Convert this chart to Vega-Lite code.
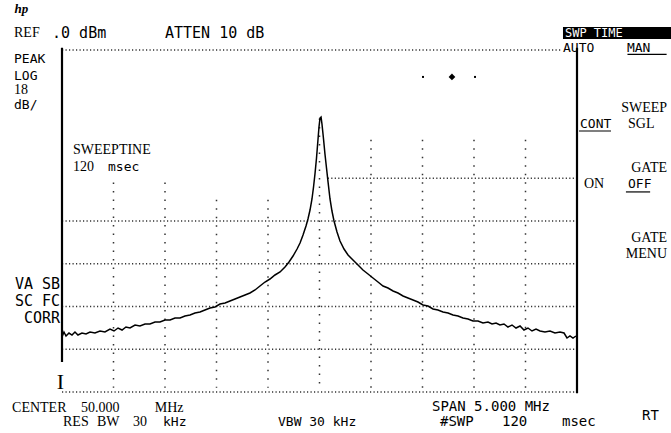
{
  "$schema": "https://vega.github.io/schema/vega-lite/v6.json",
  "width": 515,
  "height": 342,
  "autosize": {"type": "none"},
  "padding": {"left": 62, "top": 50, "right": 94, "bottom": 41},
  "background": "white",
  "config": {"view": {"stroke": null}},
  "datasets": {
    "trace": [
      {"f":47.500,"dB":-67.13},{"f":47.519,"dB":-65.96},{"f":47.539,"dB":-66.90},{"f":47.568,"dB":-66.20},{"f":47.597,"dB":-66.67},{"f":47.626,"dB":-65.96},{"f":47.655,"dB":-66.67},{"f":47.694,"dB":-66.20},{"f":47.733,"dB":-66.43},{"f":47.772,"dB":-65.96},{"f":47.820,"dB":-66.20},{"f":47.869,"dB":-65.73},{"f":47.917,"dB":-65.96},{"f":47.966,"dB":-65.26},{"f":48.005,"dB":-65.73},{"f":48.044,"dB":-65.03},{"f":48.083,"dB":-65.50},{"f":48.121,"dB":-64.80},{"f":48.160,"dB":-65.03},{"f":48.209,"dB":-64.33},{"f":48.257,"dB":-64.56},{"f":48.306,"dB":-64.09},{"f":48.354,"dB":-64.09},{"f":48.403,"dB":-63.63},{"f":48.451,"dB":-63.63},{"f":48.500,"dB":-63.16},{"f":48.549,"dB":-63.16},{"f":48.597,"dB":-62.69},{"f":48.646,"dB":-62.69},{"f":48.694,"dB":-62.22},{"f":48.743,"dB":-61.99},{"f":48.791,"dB":-61.52},{"f":48.840,"dB":-61.29},{"f":48.888,"dB":-60.82},{"f":48.937,"dB":-60.35},{"f":48.985,"dB":-60.12},{"f":49.034,"dB":-59.42},{"f":49.083,"dB":-59.18},{"f":49.131,"dB":-58.71},{"f":49.180,"dB":-58.25},{"f":49.228,"dB":-57.78},{"f":49.277,"dB":-57.31},{"f":49.325,"dB":-56.84},{"f":49.374,"dB":-56.14},{"f":49.422,"dB":-55.20},{"f":49.471,"dB":-54.27},{"f":49.519,"dB":-53.57},{"f":49.568,"dB":-52.63},{"f":49.617,"dB":-51.93},{"f":49.665,"dB":-50.76},{"f":49.704,"dB":-49.59},{"f":49.743,"dB":-48.19},{"f":49.782,"dB":-46.55},{"f":49.811,"dB":-45.15},{"f":49.840,"dB":-43.27},{"f":49.869,"dB":-41.17},{"f":49.888,"dB":-39.53},{"f":49.908,"dB":-37.43},{"f":49.927,"dB":-34.85},{"f":49.942,"dB":-32.05},{"f":49.956,"dB":-29.01},{"f":49.971,"dB":-25.26},{"f":49.985,"dB":-21.05},{"f":49.995,"dB":-18.01},{"f":50.005,"dB":-15.91},{"f":50.015,"dB":-15.67},{"f":50.024,"dB":-17.31},{"f":50.039,"dB":-20.82},{"f":50.053,"dB":-24.33},{"f":50.068,"dB":-27.60},{"f":50.083,"dB":-30.88},{"f":50.102,"dB":-34.85},{"f":50.121,"dB":-37.66},{"f":50.141,"dB":-40.00},{"f":50.170,"dB":-42.57},{"f":50.199,"dB":-44.68},{"f":50.238,"dB":-46.55},{"f":50.277,"dB":-47.95},{"f":50.325,"dB":-49.12},{"f":50.374,"dB":-50.29},{"f":50.422,"dB":-51.46},{"f":50.471,"dB":-52.40},{"f":50.519,"dB":-53.33},{"f":50.568,"dB":-54.27},{"f":50.617,"dB":-55.20},{"f":50.665,"dB":-55.67},{"f":50.714,"dB":-56.37},{"f":50.762,"dB":-56.84},{"f":50.811,"dB":-57.54},{"f":50.859,"dB":-58.01},{"f":50.908,"dB":-58.48},{"f":50.956,"dB":-58.95},{"f":51.005,"dB":-59.65},{"f":51.053,"dB":-59.88},{"f":51.102,"dB":-60.58},{"f":51.150,"dB":-60.82},{"f":51.199,"dB":-61.29},{"f":51.248,"dB":-61.52},{"f":51.296,"dB":-61.99},{"f":51.345,"dB":-62.22},{"f":51.393,"dB":-62.69},{"f":51.442,"dB":-62.92},{"f":51.490,"dB":-63.39},{"f":51.539,"dB":-63.39},{"f":51.587,"dB":-63.86},{"f":51.636,"dB":-63.63},{"f":51.675,"dB":-64.09},{"f":51.714,"dB":-63.86},{"f":51.752,"dB":-64.33},{"f":51.791,"dB":-64.09},{"f":51.830,"dB":-64.80},{"f":51.869,"dB":-64.33},{"f":51.908,"dB":-65.03},{"f":51.947,"dB":-64.56},{"f":51.985,"dB":-65.50},{"f":52.024,"dB":-65.03},{"f":52.063,"dB":-65.73},{"f":52.102,"dB":-65.26},{"f":52.141,"dB":-65.73},{"f":52.189,"dB":-65.96},{"f":52.238,"dB":-65.73},{"f":52.286,"dB":-66.20},{"f":52.335,"dB":-65.96},{"f":52.374,"dB":-66.20},{"f":52.403,"dB":-67.37},{"f":52.432,"dB":-66.90},{"f":52.461,"dB":-67.37},{"f":52.490,"dB":-66.90}
    ],
    "hgrid": [
      {"y":0,"x1":47.5,"x2":52.35},
      {"y":-30,"x1":50.08,"x2":52.5},
      {"y":-40,"x1":47.5,"x2":52.5},
      {"y":-50,"x1":47.5,"x2":52.5},
      {"y":-60,"x1":47.5,"x2":52.5},
      {"y":-70,"x1":47.5,"x2":52.5},
      {"y":-80,"x1":47.5,"x2":52.5}
    ],
    "vgrid": [
      {"x":48.0,"top":-31},{"x":48.5,"top":-31},{"x":49.0,"top":-35},{"x":49.5,"top":-35},
      {"x":50.0,"top":-16},{"x":50.5,"top":-21},{"x":51.0,"top":-21},{"x":51.5,"top":-21},{"x":52.0,"top":-21}
    ],
    "borders": [
      {"x":47.5,"top":0.5,"bottom":-73},
      {"x":52.5,"top":0.5,"bottom":-80.3}
    ],
    "marker": [{"f":51.286,"dB":-6.3}],
    "markdots": [{"f":51.005,"dB":-6.3},{"f":51.51,"dB":-6.3}],
    "monoBig": [
      {"x":47.403,"y":4.0,"t":".0 dBm"},
      {"x":48.5,"y":4.0,"t":"ATTEN 10 dB"}
    ],
    "monoMid": [
      {"x":51.092,"y":-83.51,"t":"SPAN 5.000 MHz"},
      {"x":51.17,"y":-87.13,"t":"#SWP"},
      {"x":51.772,"y":-87.13,"t":"120"},
      {"x":52.354,"y":-87.13,"t":"msec"},
      {"x":53.131,"y":-85.6,"t":"RT"}
    ],
    "mono": [
      {"x":47.034,"y":-2.1,"t":"PEAK"},
      {"x":47.034,"y":-6.0,"t":"LOG"},
      {"x":47.034,"y":-12.9,"t":"dB/"},
      {"x":47.947,"y":-27.37,"t":"msec"},
      {"x":48.481,"y":-87.02,"t":"kHz"},
      {"x":49.597,"y":-87.02,"t":"VBW 30 kHz"},
      {"x":52.364,"y":0.4,"t":"AUTO"},
      {"x":52.985,"y":0.4,"t":"MAN"},
      {"x":52.529,"y":-17.31,"t":"CONT"},
      {"x":52.995,"y":-31.35,"t":"OFF"}
    ],
    "monoRight": [
      {"x":47.481,"y":-54.74,"t":"VA SB"},
      {"x":47.481,"y":-58.71,"t":"SC FC"},
      {"x":47.481,"y":-62.69,"t":"CORR"}
    ],
    "serif": [
      {"x":47.034,"y":4.0,"t":"REF"},
      {"x":47.034,"y":-9.4,"t":"18"},
      {"x":47.607,"y":-23.39,"t":"SWEEPTINE"},
      {"x":47.607,"y":-27.37,"t":"120"},
      {"x":47.015,"y":-83.74,"t":"CENTER"},
      {"x":47.684,"y":-83.74,"t":"50.000"},
      {"x":48.40,"y":-83.74,"t":"MHz"},
      {"x":47.51,"y":-87.02,"t":"RES"},
      {"x":47.84,"y":-87.02,"t":"BW"},
      {"x":48.189,"y":-87.02,"t":"30"},
      {"x":52.995,"y":-17.31,"t":"SGL"},
      {"x":52.568,"y":-31.35,"t":"ON"}
    ],
    "serifRight": [
      {"x":53.374,"y":-13.57,"t":"SWEEP"},
      {"x":53.374,"y":-27.6,"t":"GATE"},
      {"x":53.374,"y":-43.98,"t":"GATE"},
      {"x":53.374,"y":-47.72,"t":"MENU"}
    ],
    "underlines": [
      {"x1":52.99,"x2":53.37,"y":-1.0},
      {"x1":52.519,"x2":52.83,"y":-18.95},
      {"x1":52.975,"x2":53.21,"y":-33.2}
    ],
    "softbox": [{"x1":52.364,"x2":53.45,"y1":5.4,"y2":2.6}],
    "softtext": [{"x":52.383,"y":4.0,"t":"SWP TIME"}],
    "bigI": [{"x":47.45,"y":-77.7,"t":"I"}],
    "logo": [{"x":47.04,"y":9.6,"t":"hp"}]
  },
  "layer": [
    {
      "data": {"name": "hgrid"},
      "mark": {"type": "rule", "strokeDash": [1.2, 2.3], "strokeWidth": 1.3, "color": "#333"},
      "encoding": {
        "x": {"field": "x1", "type": "quantitative", "scale": {"domain": [47.5, 52.5], "nice": false, "zero": false}, "axis": null},
        "x2": {"field": "x2"},
        "y": {"field": "y", "type": "quantitative", "scale": {"domain": [-80, 0], "nice": false, "zero": false}, "axis": null}
      }
    },
    {
      "data": {"name": "vgrid"},
      "mark": {"type": "rule", "strokeDash": [1.5, 7], "strokeWidth": 1.5, "color": "#333"},
      "encoding": {
        "x": {"field": "x", "type": "quantitative", "axis": null},
        "y": {"field": "top", "type": "quantitative", "axis": null},
        "y2": {"datum": -79}
      }
    },
    {
      "data": {"name": "borders"},
      "mark": {"type": "rule", "strokeWidth": 2.2, "color": "black"},
      "encoding": {
        "x": {"field": "x", "type": "quantitative", "axis": null},
        "y": {"field": "top", "type": "quantitative", "axis": null},
        "y2": {"field": "bottom"}
      }
    },
    {
      "data": {"name": "trace"},
      "mark": {"type": "line", "color": "black", "strokeWidth": 1.5},
      "encoding": {
        "x": {"field": "f", "type": "quantitative", "axis": null},
        "y": {"field": "dB", "type": "quantitative", "axis": null}
      }
    },
    {
      "data": {"name": "marker"},
      "mark": {"type": "point", "shape": "diamond", "filled": true, "color": "black", "size": 45, "opacity": 1},
      "encoding": {
        "x": {"field": "f", "type": "quantitative", "axis": null},
        "y": {"field": "dB", "type": "quantitative", "axis": null}
      }
    },
    {
      "data": {"name": "markdots"},
      "mark": {"type": "square", "filled": true, "color": "black", "size": 4, "opacity": 1},
      "encoding": {
        "x": {"field": "f", "type": "quantitative", "axis": null},
        "y": {"field": "dB", "type": "quantitative", "axis": null}
      }
    },
    {
      "data": {"name": "softbox"},
      "mark": {"type": "rect", "color": "black"},
      "encoding": {
        "x": {"field": "x1", "type": "quantitative", "axis": null},
        "x2": {"field": "x2"},
        "y": {"field": "y1", "type": "quantitative", "axis": null},
        "y2": {"field": "y2"}
      }
    },
    {
      "data": {"name": "softtext"},
      "mark": {"type": "text", "font": "DejaVu Sans Mono", "fontSize": 12, "align": "left", "baseline": "middle", "color": "white"},
      "encoding": {
        "x": {"field": "x", "type": "quantitative", "axis": null},
        "y": {"field": "y", "type": "quantitative", "axis": null},
        "text": {"field": "t"}
      }
    },
    {
      "data": {"name": "underlines"},
      "mark": {"type": "rule", "strokeWidth": 1.2, "color": "black"},
      "encoding": {
        "x": {"field": "x1", "type": "quantitative", "axis": null},
        "x2": {"field": "x2"},
        "y": {"field": "y", "type": "quantitative", "axis": null}
      }
    },
    {
      "data": {"name": "monoBig"},
      "mark": {"type": "text", "font": "DejaVu Sans Mono", "fontSize": 15, "align": "left", "baseline": "middle", "color": "black"},
      "encoding": {
        "x": {"field": "x", "type": "quantitative", "axis": null},
        "y": {"field": "y", "type": "quantitative", "axis": null},
        "text": {"field": "t"}
      }
    },
    {
      "data": {"name": "monoMid"},
      "mark": {"type": "text", "font": "DejaVu Sans Mono", "fontSize": 14, "align": "left", "baseline": "middle", "color": "black"},
      "encoding": {
        "x": {"field": "x", "type": "quantitative", "axis": null},
        "y": {"field": "y", "type": "quantitative", "axis": null},
        "text": {"field": "t"}
      }
    },
    {
      "data": {"name": "mono"},
      "mark": {"type": "text", "font": "DejaVu Sans Mono", "fontSize": 13, "align": "left", "baseline": "middle", "color": "black"},
      "encoding": {
        "x": {"field": "x", "type": "quantitative", "axis": null},
        "y": {"field": "y", "type": "quantitative", "axis": null},
        "text": {"field": "t"}
      }
    },
    {
      "data": {"name": "monoRight"},
      "mark": {"type": "text", "font": "DejaVu Sans Mono", "fontSize": 15, "align": "right", "baseline": "middle", "color": "black"},
      "encoding": {
        "x": {"field": "x", "type": "quantitative", "axis": null},
        "y": {"field": "y", "type": "quantitative", "axis": null},
        "text": {"field": "t"}
      }
    },
    {
      "data": {"name": "serif"},
      "mark": {"type": "text", "font": "Liberation Serif", "fontSize": 14, "align": "left", "baseline": "middle", "color": "black"},
      "encoding": {
        "x": {"field": "x", "type": "quantitative", "axis": null},
        "y": {"field": "y", "type": "quantitative", "axis": null},
        "text": {"field": "t"}
      }
    },
    {
      "data": {"name": "serifRight"},
      "mark": {"type": "text", "font": "Liberation Serif", "fontSize": 14, "align": "right", "baseline": "middle", "color": "black"},
      "encoding": {
        "x": {"field": "x", "type": "quantitative", "axis": null},
        "y": {"field": "y", "type": "quantitative", "axis": null},
        "text": {"field": "t"}
      }
    },
    {
      "data": {"name": "bigI"},
      "mark": {"type": "text", "font": "Liberation Serif", "fontSize": 22, "align": "left", "baseline": "middle", "color": "black"},
      "encoding": {
        "x": {"field": "x", "type": "quantitative", "axis": null},
        "y": {"field": "y", "type": "quantitative", "axis": null},
        "text": {"field": "t"}
      }
    },
    {
      "data": {"name": "logo"},
      "mark": {"type": "text", "font": "Liberation Serif", "fontSize": 13, "fontStyle": "italic", "fontWeight": "bold", "align": "left", "baseline": "middle", "color": "black"},
      "encoding": {
        "x": {"field": "x", "type": "quantitative", "axis": null},
        "y": {"field": "y", "type": "quantitative", "axis": null},
        "text": {"field": "t"}
      }
    }
  ]
}
